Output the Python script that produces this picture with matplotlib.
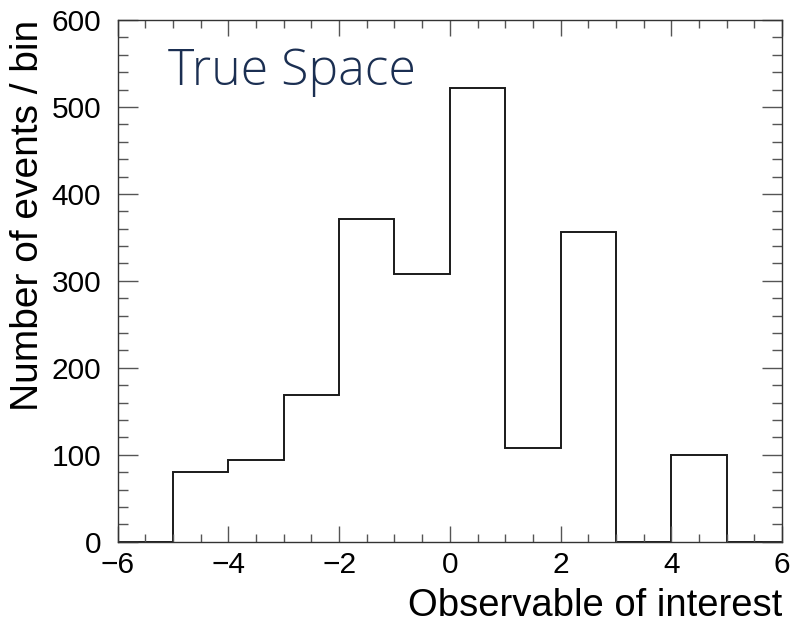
import matplotlib
matplotlib.use("Agg")
import matplotlib.pyplot as plt
from matplotlib.ticker import MultipleLocator

# Binned event counts of the observable (unit-width bins from -6 to 6)
bin_edges = [-6, -5, -4, -3, -2, -1, 0, 1, 2, 3, 4, 5, 6]
counts = [0, 80, 94, 169, 371, 308, 522, 108, 356, 0, 100, 0]

x_label = "Observable of interest"
y_label = "Number of events / bin"
title_text = "True Space"

plt.rcParams["font.family"] = ["Liberation Sans", "DejaVu Sans"]

fig = plt.figure(figsize=(7.91, 6.35), dpi=100)
ax = fig.add_axes([0.1488, 0.1469, 0.8398, 0.8216])

ax.stairs(counts, bin_edges, fill=False, color="#1a1a1a", linewidth=1.4, baseline=0)

ax.set_xlim(-6, 6)
ax.set_ylim(0, 600)

ax.xaxis.set_major_locator(MultipleLocator(2))
ax.xaxis.set_minor_locator(MultipleLocator(0.5))
ax.yaxis.set_major_locator(MultipleLocator(100))
ax.yaxis.set_minor_locator(MultipleLocator(20))

tick_color = "#555555"
ax.tick_params(axis="both", which="both", direction="in", top=True, right=True,
               color=tick_color, width=1.0, labelsize=21.5, labelcolor="black")
ax.tick_params(axis="x", which="major", length=11.5, pad=7)
ax.tick_params(axis="x", which="minor", length=5.8)
ax.tick_params(axis="y", which="major", length=14.4, pad=12)
ax.tick_params(axis="y", which="minor", length=7.2)

for side in ["left", "right", "top", "bottom"]:
    ax.spines[side].set_color("#333333")
    ax.spines[side].set_linewidth(1.0)

ax.set_xlabel(x_label, fontsize=27.5, loc="right", labelpad=6)
ax.set_ylabel(y_label, fontsize=28, loc="top", labelpad=4)

ax.text(0.075, 0.875, title_text, transform=ax.transAxes, fontsize=36,
        family=["Open Sans", "DejaVu Sans"], fontweight="light", color="#1b2f52",
        ha="left", va="baseline")

fig.savefig("out.png", dpi=100)
